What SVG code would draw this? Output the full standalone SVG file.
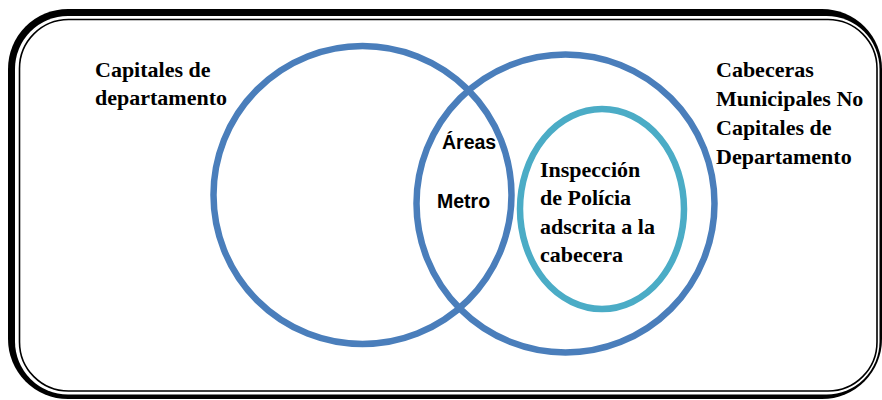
<svg xmlns="http://www.w3.org/2000/svg" width="882" height="400" viewBox="0 0 882 400">
<style>
.set{fill:none;stroke:#4a7ebb;stroke-width:6.5}
.sub{fill:none;stroke:#4bacc6;stroke-width:6.5}
</style>
<rect width="882" height="400" fill="#fff"/>
<g id="frame">
<rect x="8" y="9" width="874" height="390" rx="60" ry="60" fill="#000"/>
<rect x="15" y="16" width="864.5" height="378.5" rx="53" ry="53" fill="#fff"/>
<rect x="19.5" y="19.5" width="857.5" height="371.5" rx="49" ry="49" fill="none" stroke="#000" stroke-width="1.6"/>
</g>
<g id="capitales">
<circle class="set" cx="362.5" cy="195" r="149"/>
<g font-family="Liberation Serif, serif" font-weight="bold" font-size="22" fill="#000">
<text x="95" y="77">Capitales de</text>
<text x="95" y="105">departamento</text>
</g>
</g>
<g id="cabeceras">
<circle class="set" cx="565.5" cy="203.5" r="149"/>
<g font-family="Liberation Serif, serif" font-weight="bold" font-size="22" fill="#000">
<text x="716" y="77">Cabeceras</text>
<text x="716" y="106">Municipales No</text>
<text x="716" y="135">Capitales de</text>
<text x="716" y="164">Departamento</text>
</g>
</g>
<g id="areas-metro" font-family="Liberation Sans, sans-serif" font-weight="bold" font-size="19.5" fill="#000">
<text x="442" y="149">Áreas</text>
<text x="437" y="208">Metro</text>
</g>
<g id="inspeccion">
<ellipse class="sub" cx="602" cy="209" rx="82" ry="100"/>
<g font-family="Liberation Serif, serif" font-weight="bold" font-size="22" fill="#000">
<text x="540" y="177">Inspección</text>
<text x="540" y="205">de Polícia</text>
<text x="540" y="234">adscrita a la</text>
<text x="540" y="262">cabecera</text>
</g>
</g>
<g id="connectors"></g>
</svg>
